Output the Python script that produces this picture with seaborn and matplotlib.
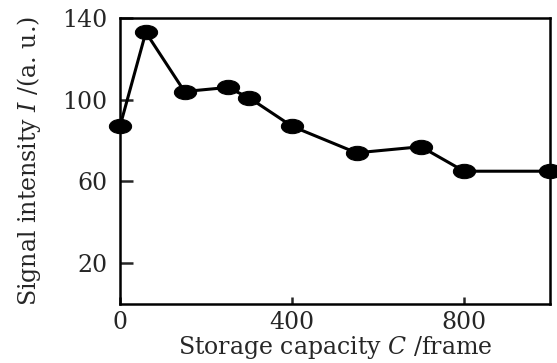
import matplotlib
matplotlib.use("Agg")
import matplotlib.pyplot as plt
import seaborn as sns
import numpy as np
import pandas as pd
from matplotlib.path import Path
from matplotlib.transforms import Affine2D

# Data
capacity = [0, 60, 150, 250, 300, 400, 550, 700, 800, 1000]
intensity = [87, 133, 104, 106, 101, 87, 74, 77, 65, 65]
x_ticks = [0, 400, 800]
y_ticks = [20, 60, 100, 140]

sns.set_style("ticks")
plt.rcParams["font.family"] = ["DejaVu Serif"]
plt.rcParams["mathtext.fontset"] = "dejavuserif"

df = pd.DataFrame({"C": capacity, "I": intensity})

fig = plt.figure(figsize=(5.57, 3.63), dpi=100)
ax = fig.add_axes([120/557, (363-304)/363, (550-120)/557, (304-18)/363])

ellipse = Path.unit_circle().transformed(Affine2D().scale(1.55, 1.0))

sns.lineplot(data=df, x="C", y="I", ax=ax, color="black", linewidth=2.2,
             marker=ellipse, markersize=16, markeredgecolor="black",
             markerfacecolor="black", clip_on=False)

ax.set_xlim(0, 1000)
ax.set_ylim(0, 140)
ax.set_xticks(x_ticks)
ax.set_yticks(y_ticks)
ax.tick_params(axis="y", direction="in", length=9, width=1.8, labelsize=17, pad=9)
ax.tick_params(axis="x", direction="in", length=5, width=1.8, labelsize=17, pad=5)
for s in ax.spines.values():
    s.set_visible(True)
    s.set_linewidth(1.8)
    s.set_color("black")

ax.set_xlabel(r"Storage capacity $C$ /frame", fontsize=17)
ax.set_ylabel(r"Signal intensity $I$ /(a. u.)", fontsize=17)
ax.xaxis.set_label_coords(0.5, -0.105)
ax.yaxis.set_label_coords(-0.18, 0.5)

fig.savefig("out.png", dpi=100)
